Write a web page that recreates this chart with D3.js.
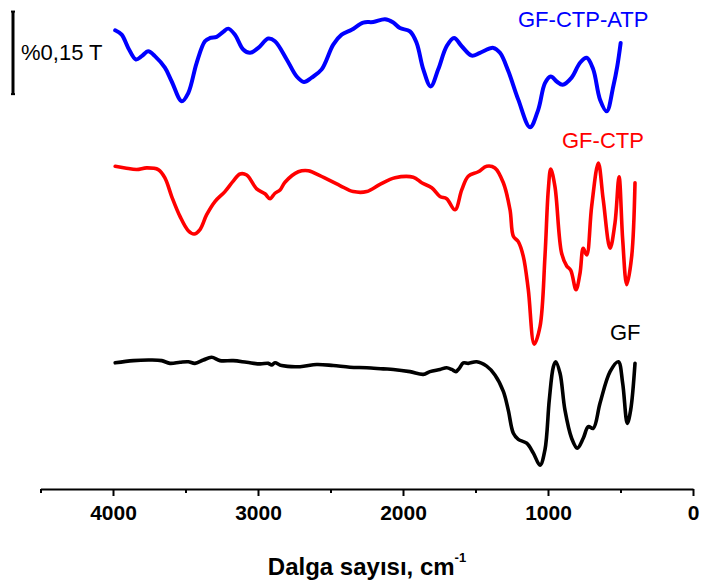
<!DOCTYPE html>
<html><head><meta charset="utf-8">
<script src="https://cdn.jsdelivr.net/npm/d3@7"></script>
<style>
html,body{margin:0;padding:0;background:#fff;}
svg{display:block;font-family:"Liberation Sans",Arial,sans-serif;}
</style></head>
<body>
<svg id="chart" width="703" height="584"></svg>
<script>
// wavenumber (cm-1) and transmittance (offset, arbitrary zero)
const atpWn = [3985,3940,3895,3842,3802,3757,3711,3642,3595,3526,3481,3423,3366,3331,3285,3240,3205,3159,3102,3055,2998,2929,2883,2802,2733,2683,2630,2561,2481,2423,2354,2274,2205,2124,2067,2021,1952,1906,1860,1809,1757,1699,1648,1595,1526,1469,1377,1331,1274,1205,1124,1067,1021,981,940,899,837,779,733,688,641,595,550,522,499];
const atpT = [0.835,0.827,0.803,0.782,0.788,0.797,0.788,0.767,0.742,0.706,0.721,0.776,0.815,0.821,0.823,0.832,0.838,0.827,0.800,0.794,0.803,0.820,0.815,0.782,0.751,0.741,0.749,0.764,0.809,0.827,0.836,0.849,0.850,0.855,0.849,0.839,0.833,0.812,0.764,0.733,0.764,0.806,0.821,0.806,0.789,0.794,0.803,0.794,0.761,0.709,0.659,0.691,0.739,0.751,0.742,0.736,0.749,0.776,0.785,0.764,0.709,0.688,0.733,0.770,0.812];

const ctpWn = [3985,3917,3837,3768,3688,3642,3595,3538,3481,3440,3400,3354,3297,3228,3171,3124,3078,3009,2952,2917,2883,2848,2814,2722,2653,2573,2435,2343,2250,2159,2055,1929,1871,1802,1745,1699,1641,1595,1550,1481,1423,1366,1308,1262,1239,1205,1170,1136,1095,1055,1021,998,981,952,906,871,843,807,779,757,733,699,653,619,572,538,510,485,457,423,400];
const ctpT = [0.588,0.585,0.582,0.585,0.582,0.567,0.533,0.497,0.471,0.465,0.473,0.500,0.524,0.542,0.561,0.574,0.572,0.547,0.538,0.529,0.539,0.545,0.559,0.578,0.580,0.571,0.553,0.542,0.542,0.555,0.567,0.568,0.558,0.549,0.533,0.529,0.509,0.545,0.570,0.578,0.588,0.585,0.558,0.509,0.461,0.451,0.424,0.364,0.265,0.297,0.424,0.545,0.583,0.551,0.430,0.407,0.399,0.364,0.394,0.439,0.427,0.515,0.594,0.527,0.439,0.485,0.569,0.455,0.373,0.424,0.558];

const gfWn = [3985,3860,3745,3664,3607,3538,3481,3435,3377,3320,3262,3171,3078,2986,2929,2906,2883,2837,2710,2595,2481,2366,2250,2136,2067,1952,1860,1814,1745,1699,1664,1635,1612,1584,1550,1492,1423,1366,1308,1274,1239,1205,1147,1101,1055,1021,991,963,947,917,883,837,798,757,722,688,641,572,515,485,453,430,400];
const gfT = [0.231,0.235,0.236,0.235,0.230,0.232,0.233,0.230,0.236,0.241,0.235,0.235,0.232,0.229,0.230,0.227,0.231,0.226,0.224,0.228,0.226,0.223,0.222,0.220,0.219,0.215,0.210,0.215,0.219,0.222,0.219,0.215,0.221,0.231,0.230,0.233,0.225,0.209,0.179,0.145,0.103,0.092,0.085,0.067,0.045,0.073,0.164,0.224,0.233,0.212,0.145,0.094,0.076,0.094,0.115,0.112,0.158,0.215,0.233,0.194,0.121,0.145,0.230];

const seriesNames = ["GF-CTP-ATP","GF-CTP","GF"];
const seriesColors = ["#0000ff","#ff0000","#000000"];
const xTicks = [4000,3000,2000,1000,0];
const xMinorTicks = [4500,3500,2500,1500,500];
const xTitle = "Dalga sayısı, cm";
const xTitleSup = "-1";
const scaleBarTop = 0.869;
const scaleBarLength = 0.15;
const scaleBarLabel = "%0,15 T";

const svg = d3.select("#chart");
const x = d3.scaleLinear().domain([4500, 0]).range([40.5, 693]);
const y = d3.scaleLinear().domain([0, 0.89]).range([490, 0]);
const axisY = 489;

const series = [
  {name: seriesNames[0], color: seriesColors[0], wn: atpWn, t: atpT, width: 4, lx: 518, ly: 27},
  {name: seriesNames[1], color: seriesColors[1], wn: ctpWn, t: ctpT, width: 3.6, lx: 562, ly: 148},
  {name: seriesNames[2], color: seriesColors[2], wn: gfWn, t: gfT, width: 3.6, lx: 610, ly: 340}
];

const line = d3.line().x(d => x(d[0])).y(d => y(d[1])).curve(d3.curveCatmullRom.alpha(0.5));

series.forEach(s => {
  const pts = s.wn.map((w, i) => [w, s.t[i]]);
  svg.append("path").datum(pts)
    .attr("d", line)
    .attr("fill", "none")
    .attr("stroke", s.color)
    .attr("stroke-width", s.width)
    .attr("stroke-linejoin", "round")
    .attr("stroke-linecap", "round");
  svg.append("text")
    .attr("x", s.lx).attr("y", s.ly)
    .attr("fill", s.color)
    .attr("font-size", 22)
    .text(s.name);
});

// minor ticks
const minorAxis = d3.axisBottom(x).tickValues(xMinorTicks).tickSize(4).tickSizeOuter(0).tickFormat("");
const gMinor = svg.append("g").attr("transform", `translate(0,${axisY})`).call(minorAxis);
gMinor.select(".domain").remove();
gMinor.selectAll("line").attr("stroke", "#000").attr("stroke-width", 2);

// major axis
const axis = d3.axisBottom(x).tickValues(xTicks).tickSize(7).tickSizeOuter(0).tickPadding(9).tickFormat(d3.format("d"));
const gAxis = svg.append("g").attr("transform", `translate(0,${axisY})`).call(axis);
gAxis.select(".domain").attr("stroke", "#000").attr("stroke-width", 2);
gAxis.selectAll(".tick line").attr("stroke", "#000").attr("stroke-width", 2);
gAxis.selectAll(".tick text")
  .attr("font-size", 21).attr("font-weight", "bold")
  .attr("font-family", '"Liberation Sans",Arial,sans-serif')
  .attr("fill", "#000");

// axis title
const title = svg.append("text")
  .attr("x", 367).attr("y", 575)
  .attr("text-anchor", "middle")
  .attr("font-size", 24).attr("font-weight", "bold").attr("fill", "#000");
title.append("tspan").text(xTitle);
title.append("tspan").attr("dy", -13).attr("font-size", 13).text(xTitleSup);

// scale bar
const sbX = 13;
svg.append("line")
  .attr("x1", sbX).attr("x2", sbX)
  .attr("y1", y(scaleBarTop)).attr("y2", y(scaleBarTop - scaleBarLength))
  .attr("stroke", "#000").attr("stroke-width", 3);
[scaleBarTop, scaleBarTop - scaleBarLength].forEach(v => {
  svg.append("line").attr("x1", sbX - 2).attr("x2", sbX + 2)
    .attr("y1", y(v)).attr("y2", y(v)).attr("stroke", "#000").attr("stroke-width", 2);
});
svg.append("text").attr("x", 21).attr("y", 60)
  .attr("font-size", 22).attr("fill", "#000").text(scaleBarLabel);
</script>
</body></html>
